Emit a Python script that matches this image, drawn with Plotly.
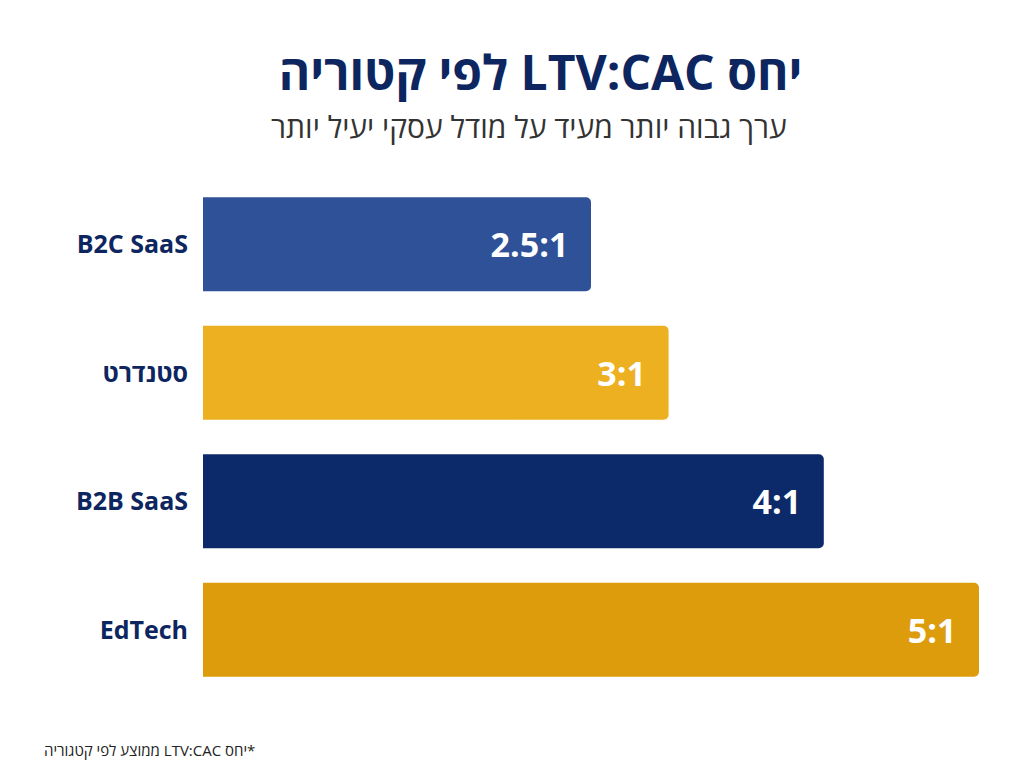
import plotly.graph_objects as go

categories = ["B2C SaaS", "סטנדרט", "B2B SaaS", "EdTech"]
ratios = [2.5, 3, 4, 5]
ratio_labels = ["2.5:1", "3:1", "4:1", "5:1"]
colors = ["#2f5197", "#ecb021", "#0c2a6a", "#dc9c0c"]

RLE, PDF = "\u202b", "\u202c"

fig = go.Figure(go.Bar(
    y=categories, x=ratios, orientation="h",
    marker=dict(color=colors, line=dict(width=0)),
    text=[t + "  " for t in ratio_labels], textposition="inside", insidetextanchor="end",
    textfont=dict(family="Open Sans", size=34, color="white", weight="bold"),
    width=0.73,
))
fig.update_layout(
    width=1024, height=768,
    paper_bgcolor="white", plot_bgcolor="white",
    margin=dict(l=195, r=53, t=172, b=82),
    barcornerradius=5,
    showlegend=False,
    title=dict(
        text=RLE + "יחס LTV:CAC לפי קטוריה" + PDF,
        x=0.52, xanchor="center", y=0.915, yanchor="middle",
        font=dict(family="Open Sans", size=48, color="#0d2660", weight="bold"),
    ),
)
fig.add_annotation(
    text=RLE + "ערך גבוה יותר מעיד על מודל עסקי יעיל יותר" + PDF,
    xref="paper", yref="paper", x=0.42, y=1.0, yshift=76,
    showarrow=False, font=dict(family="Open Sans", size=30, color="#333333"),
)
fig.add_annotation(
    text=RLE + "*יחס LTV:CAC ממוצע לפי קטגוריה" + PDF,
    xref="paper", yref="paper", x=-0.207, y=0, yshift=-68,
    xanchor="left", showarrow=False,
    font=dict(family="Open Sans", size=15, color="#222222"),
)
fig.update_xaxes(range=[0, 5.0], visible=False)
fig.update_yaxes(
    autorange="reversed", showgrid=False, ticks="",
    ticklabelstandoff=14,
    tickfont=dict(family="Open Sans", size=25, color="#0d2660", weight="bold"),
)
fig.write_html("out.html")
